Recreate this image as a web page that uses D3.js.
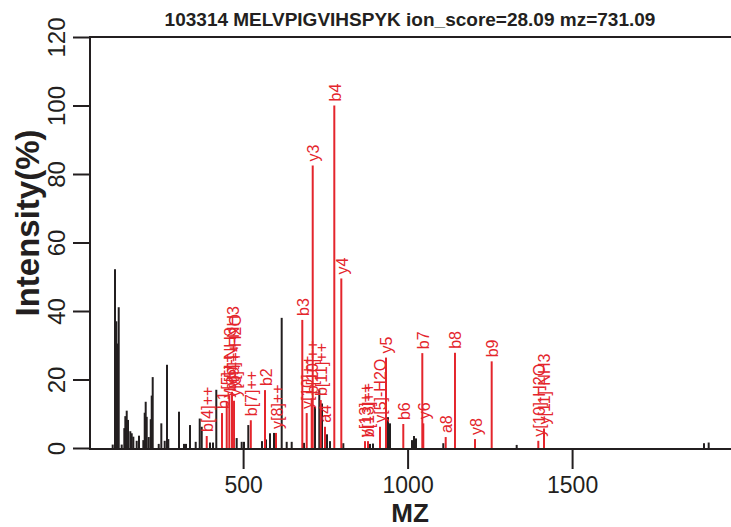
<!DOCTYPE html>
<meta charset="utf-8">
<script src="https://cdn.jsdelivr.net/npm/d3@7"></script>
<style>
  body { margin: 0; background: #fff; }
  text { font-family: "Liberation Sans", Arial, Helvetica, sans-serif; }
</style>
<div id="chart"></div>
<script>
// spectrum info
const title = "103314 MELVPIGVIHSPYK ion_score=28.09 mz=731.09";

// unmatched peaks (black)
const otherMz = [103.6, 110.6, 114.6, 117.6, 121.9, 131, 138.9, 142, 146.2, 150.2,
  157.1, 161.4, 166.3, 176.6, 183.6, 196.7, 200.9, 203.9, 207, 213.1,
  219.2, 222.2, 225.2, 243.5, 251.4, 261.7, 268.7, 272.6, 305.2, 320.4,
  326.4, 338.6, 355.9, 368.1, 374.2, 399.4, 408.5, 418.5, 480.5, 495.7,
  502.7, 515.8, 557.4, 569.6, 581.8, 593.9, 617.3, 632.5, 647.7, 685.1,
  718.5, 731.6, 739.8, 755, 764.1, 804.6, 870.5, 885.7, 894.8, 940.4,
  946.5, 1013.4, 1019.5, 1025.5, 1108.5, 1331.6, 1900.9, 1915.2];
const otherInt = [1, 52.2, 37, 30.5, 41.1, 1, 5.8, 9.3, 10.9, 8.2,
  4.9, 4.3, 3.3, 2.1, 3.6, 2.3, 10.3, 13.5, 9.1, 3.2,
  8.4, 15.3, 20.7, 1.2, 7.2, 2.1, 24.3, 2.6, 10.6, 1.2,
  1.2, 6.7, 1.8, 8.6, 6.2, 1.6, 1.6, 17, 2.9, 1.8,
  1.8, 6.7, 2, 2.5, 4.3, 4.4, 38, 1.8, 1.8, 1.5,
  12, 16.9, 13, 4, 2, 1.4, 1.5, 1.2, 1.3, 9,
  7.2, 2.3, 3.5, 2.8, 1.4, 0.9, 1.4, 1.6];

// matched fragment ions (red)
const ionMz = [389.4, 435.9, 450.2, 458.1, 466.3, 472.4, 523.4, 566.6, 600, 679.9,
  693.3, 708.5, 711.6, 735.9, 748.9, 777.2, 798.5, 870.5, 879.6, 916.1,
  934.3, 986.9, 1044.7, 1047.7, 1115.8, 1144, 1204.9, 1255.6, 1397.3, 1414.6];
const ionInt = [3.5, 10.2, 13.5, 15.4, 16.4, 13.8, 8.1, 16.9, 4.4, 37.4,
  10.2, 14.5, 82.5, 14, 6.2, 100, 49.5, 2, 2, 6.2,
  26.4, 7, 27.7, 7.2, 3.2, 27.8, 2.6, 25.3, 2.1, 5.7];
const ionLabels = ["b[4]++", "b1", "y[5]++", "b[5]-NH3", "y[9]++-NH3", "y[9]++-H2O", "b[7]++", "b2", "y[8]++", "b3",
  "y[10]++", "b[10]++", "y3", "b[11]++", "a4", "b4", "y4", "y[13]++", "b[13]++", "y[5]-H2O",
  "y5", "b6", "b7", "y6", "a8", "b8", "y8", "b9", "y[10]-H2O", "y[11]-NH3"];

const yTicks = [0, 20, 40, 60, 80, 100, 120];
const xTicks = [500, 1000, 1500];

const W = 731, H = 527;
const plotLeft = 90, plotRight = 730, plotTop = 37, plotBottom = 448;
const ink = "#231f20", red = "#e4252c";

const svg = d3.select("#chart").append("svg")
  .attr("width", W)
  .attr("height", H);

const x = d3.scaleLinear().domain([34.6, 1980]).range([plotLeft, plotRight]);
const y = d3.scaleLinear().domain([0, 120]).range([plotBottom, plotTop]);

// black peaks
svg.append("g").selectAll("line")
  .data(otherMz.map((m, i) => ({mz: m, v: otherInt[i]})))
  .join("line")
    .attr("x1", d => x(d.mz)).attr("x2", d => x(d.mz))
    .attr("y1", y(0)).attr("y2", d => y(d.v))
    .attr("stroke", ink).attr("stroke-width", 2);

const ions = ionMz.map((m, i) => ({mz: m, v: ionInt[i], label: ionLabels[i]}));

// red peaks
svg.append("g").selectAll("line")
  .data(ions)
  .join("line")
    .attr("x1", d => x(d.mz)).attr("x2", d => x(d.mz))
    .attr("y1", y(0)).attr("y2", d => y(d.v))
    .attr("stroke", red).attr("stroke-width", 2);

// ion labels
svg.append("g").selectAll("text")
  .data(ions)
  .join("text")
    .attr("transform", d => `translate(${x(d.mz) + 1},${y(d.v) - 4}) rotate(-90)`)
    .attr("dominant-baseline", "central")
    .attr("fill", red)
    .style("font-size", "16px")
    .text(d => d.label);

// box: top, left, bottom
svg.append("path")
  .attr("d", `M${plotRight + 2},${plotTop}H${plotLeft}V${plotBottom + 1}H${plotRight + 2}`)
  .attr("fill", "none").attr("stroke", ink).attr("stroke-width", 2);

// x axis
const gx = svg.append("g")
  .attr("transform", `translate(0,${plotBottom + 1})`)
  .call(d3.axisBottom(x).tickValues(xTicks).tickFormat(d3.format("d"))
    .tickSize(20).tickSizeOuter(0).tickPadding(8));
gx.select(".domain").remove();
gx.selectAll("line").attr("stroke", ink).attr("stroke-width", 2);
gx.selectAll("text").attr("fill", ink).style("font-size", "23px")
  .style("font-family", "'Liberation Sans', Arial, sans-serif");

// y axis
const gy = svg.append("g")
  .attr("transform", `translate(${plotLeft},0)`)
  .call(d3.axisLeft(y).tickValues(yTicks).tickSize(17).tickSizeOuter(0));
gy.select(".domain").remove();
gy.selectAll("line").attr("stroke", ink).attr("stroke-width", 2);
gy.selectAll("text")
  .attr("x", null).attr("dy", null)
  .attr("transform", "translate(-25,0) rotate(-90)")
  .attr("text-anchor", "middle")
  .attr("fill", ink).style("font-size", "24px")
  .style("font-family", "'Liberation Sans', Arial, sans-serif");

// titles
svg.append("text")
  .attr("x", 410).attr("y", 26)
  .attr("text-anchor", "middle")
  .attr("fill", ink)
  .style("font-size", "19px").style("font-weight", "bold")
  .text(title);

svg.append("text")
  .attr("transform", "translate(39,223) rotate(-90)")
  .attr("text-anchor", "middle")
  .attr("fill", ink)
  .style("font-size", "33px").style("font-weight", "bold")
  .text("Intensity(%)");

svg.append("text")
  .attr("x", 410).attr("y", 521.5)
  .attr("text-anchor", "middle")
  .attr("fill", ink)
  .style("font-size", "26px").style("font-weight", "bold")
  .text("MZ");
</script>
